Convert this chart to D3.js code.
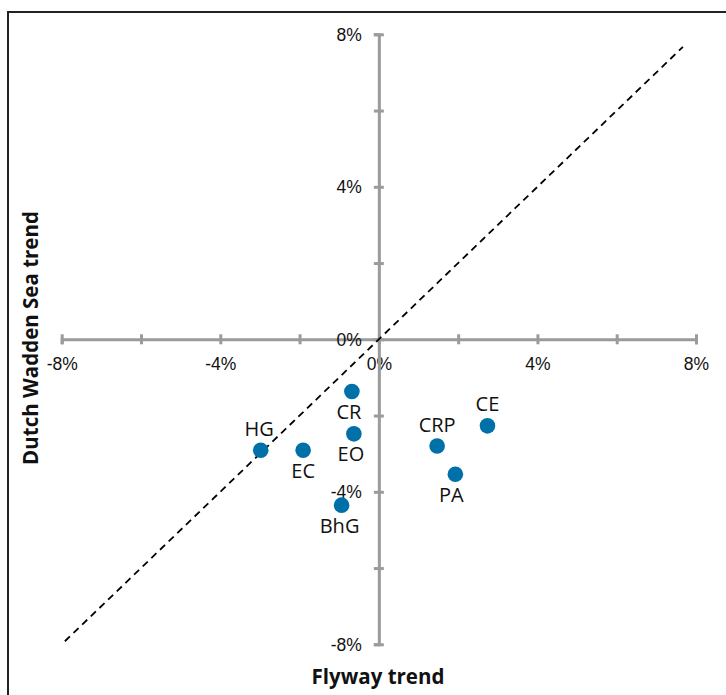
<!DOCTYPE html>
<html>
<head>
<meta charset="utf-8">
<script src="https://cdn.jsdelivr.net/npm/d3@7"></script>
<style>
  html, body { margin: 0; padding: 0; background: #fff; }
  svg { display: block; }
</style>
</head>
<body>
<script>
// Species codes and their population trends (% per year)
const species = ["CR", "EO", "HG", "EC", "BhG", "CRP", "CE", "PA"];
const flywayTrend = [-0.68, -0.63, -2.98, -1.91, -0.94, 1.47, 2.74, 1.93];
const waddenTrend = [-1.37, -2.48, -2.91, -2.91, -4.35, -2.80, -2.27, -3.54];
const tickValues = [-8, -6, -4, -2, 0, 2, 4, 6, 8];
const labelledTicks = [-8, -4, 0, 4, 8];
const equalityLine = [-7.92, 7.67];

const W = 726, H = 695;
const svg = d3.select("body").append("svg").attr("width", W).attr("height", H);

// outer frame
svg.append("rect")
  .attr("x", 8).attr("y", 12).attr("width", W + 20).attr("height", H + 20)
  .attr("fill", "none").attr("stroke", "#222").attr("stroke-width", 2);

const x = d3.scaleLinear().domain([-8, 8]).range([61.7, 696]);
const y = d3.scaleLinear().domain([-8, 8]).range([644.3, 34.3]);

const axisColor = "#9b9b9b";
const tickFont = "'Liberation Sans', Arial, sans-serif";
const fmt = d => labelledTicks.includes(d) ? d + "%" : "";

// horizontal axis through y = 0
const gx = svg.append("g")
  .attr("transform", `translate(0,${y(0)})`)
  .call(d3.axisBottom(x).tickValues(tickValues).tickFormat(fmt).tickSizeOuter(0).tickSize(5).tickPadding(13));
// vertical axis through x = 0
const gy = svg.append("g")
  .attr("transform", `translate(${x(0)},0)`)
  .call(d3.axisLeft(y).tickValues(tickValues).tickFormat(fmt).tickSizeOuter(0).tickSize(5).tickPadding(12));

[gx, gy].forEach(g => {
  g.select(".domain").attr("stroke", axisColor).attr("stroke-width", 3);
  g.selectAll(".tick text")
    .attr("fill", "#111").style("font-family", tickFont).style("font-size", "17.5px");
});
gx.selectAll(".tick line").attr("y1", -5).attr("y2", 5)
  .attr("stroke", axisColor).attr("stroke-width", 3);
gy.selectAll(".tick line").attr("x1", -5).attr("x2", 5)
  .attr("stroke", axisColor).attr("stroke-width", 3);
gy.selectAll(".tick text").attr("dy", "0.35em");

// 1:1 reference line
svg.append("line")
  .attr("x1", x(equalityLine[0])).attr("y1", y(equalityLine[0]))
  .attr("x2", x(equalityLine[1])).attr("y2", y(equalityLine[1]))
  .attr("stroke", "#000").attr("stroke-width", 1.8)
  .attr("stroke-dasharray", "7,5");

// species points
const pts = species.map((s, i) => ({ s, fx: flywayTrend[i], wy: waddenTrend[i] }));
svg.append("g").selectAll("circle").data(pts).join("circle")
  .attr("cx", d => x(d.fx)).attr("cy", d => y(d.wy)).attr("r", 7.8)
  .attr("fill", "#0070a8");

// label placement: above or below each point
const above = new Set(["HG", "CRP", "CE"]);
const nudge = { CR: -3, EO: -3, PA: -4, HG: -1.5, BhG: -2 };
svg.append("g").selectAll("text").data(pts).join("text")
  .attr("x", d => x(d.fx) + (nudge[d.s] || 0))
  .attr("y", d => y(d.wy) + (above.has(d.s) ? -14.5 : 27.5))
  .attr("text-anchor", "middle")
  .style("font-family", "'Open Sans', sans-serif").style("font-size", "20px")
  .attr("fill", "#111")
  .text(d => d.s);

// axis titles
svg.append("text")
  .attr("x", 378).attr("y", 684)
  .attr("text-anchor", "middle")
  .style("font-family", "'Open Sans', sans-serif").style("font-size", "20.5px").style("font-weight", "bold")
  .attr("fill", "#111")
  .text("Flyway trend");
svg.append("text")
  .attr("transform", "translate(38,338) rotate(-90)")
  .attr("text-anchor", "middle")
  .style("font-family", "'Open Sans', sans-serif").style("font-size", "20.5px").style("font-weight", "bold")
  .attr("fill", "#111")
  .text("Dutch Wadden Sea trend");
</script>
</body>
</html>
